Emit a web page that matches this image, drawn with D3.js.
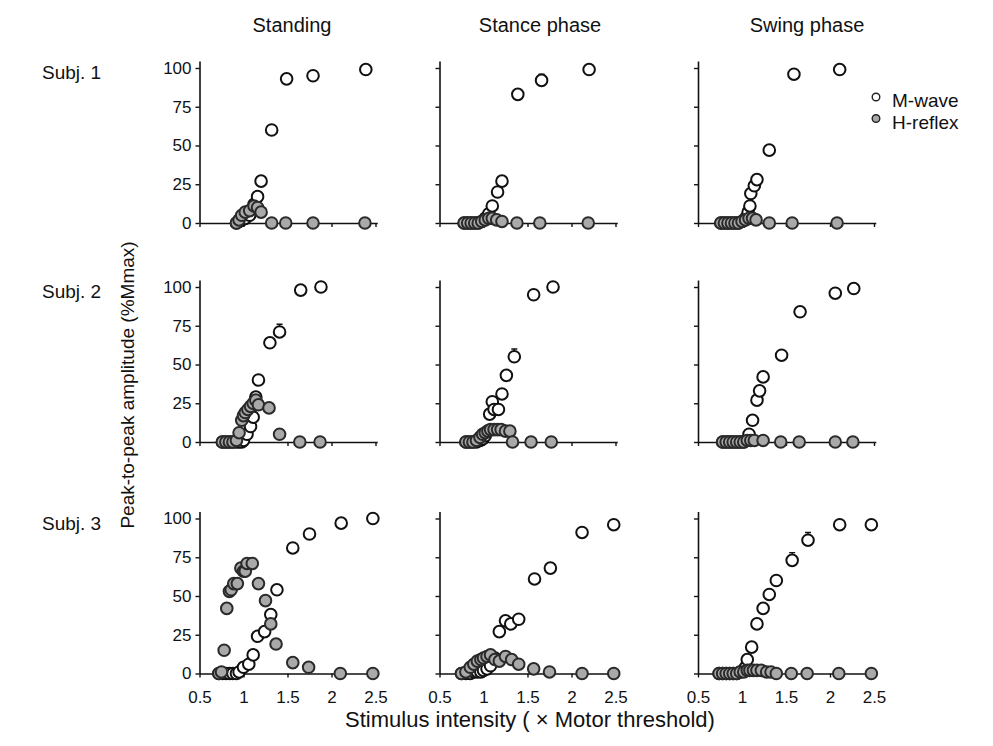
<!DOCTYPE html>
<html>
<head>
<meta charset="utf-8">
<script src="https://cdnjs.cloudflare.com/ajax/libs/d3/7.8.5/d3.min.js"></script>
<style>
  body { margin: 0; background: #fff; }
  svg text { font-family: "Liberation Sans", Arial, sans-serif; fill: #111; }
</style>
</head>
<body>
<div class="chart"></div>
<script>
const conditions = ["Standing", "Stance phase", "Swing phase"];
const subjects = ["Subj. 1", "Subj. 2", "Subj. 3"];
const seriesNames = ["M-wave", "H-reflex"];
const xTicks = [0.5, 1, 1.5, 2, 2.5];
const yTicks = [0, 25, 50, 75, 100];

// [stimulus intensity, amplitude %Mmax]
const s1StandingM = [[0.92,0],[0.95,1],[0.98,2],[1.02,3],[1.07,5],[1.12,12],[1.16,17],[1.2,27],[1.32,60],[1.49,93],[1.79,95],[2.39,99]];
const s1StandingH = [[0.92,0],[0.95,2],[0.98,5],[1.02,7],[1.07,8],[1.12,11],[1.16,10],[1.2,7],[1.32,0],[1.48,0],[1.79,0],[2.38,0]];
const s1StanceM = [[0.78,0],[0.82,0],[0.86,0],[0.9,0],[0.94,0],[0.98,1],[1.02,3],[1.06,6],[1.1,11],[1.16,20],[1.21,27],[1.39,83],[1.66,92],[2.2,99]];
const s1StanceH = [[0.78,0],[0.82,0],[0.86,0],[0.9,0],[0.94,0],[0.98,1],[1.02,2],[1.06,3],[1.1,3],[1.15,2],[1.21,1],[1.38,0],[1.64,0],[2.19,0]];
const s1SwingM = [[0.76,0],[0.8,0],[0.84,0],[0.88,0],[0.92,0],[0.96,0],[1.0,1],[1.04,3],[1.07,7],[1.09,11],[1.1,19],[1.14,24],[1.17,28],[1.31,47],[1.59,96],[2.11,99]];
const s1SwingH = [[0.76,0],[0.8,0],[0.84,0],[0.88,0],[0.92,0],[0.96,0],[1.0,1],[1.04,2],[1.08,3],[1.12,3],[1.16,2],[1.31,0],[1.57,0],[2.08,0]];

const s2StandingM = [[0.76,0],[0.8,0],[0.84,0],[0.88,0],[0.92,0],[0.95,0],[0.98,0],[1.0,1],[1.04,5],[1.08,10],[1.11,16],[1.14,29],[1.17,40],[1.3,64],[1.41,71],[1.65,98],[1.88,100]];
const s2StandingH = [[0.76,0],[0.8,0],[0.84,0],[0.88,0],[0.92,1],[0.95,6],[0.98,14],[1.0,17],[1.02,19],[1.05,21],[1.08,23],[1.11,25],[1.14,27],[1.17,24],[1.29,22],[1.41,5],[1.64,0],[1.87,0]];
const s2StanceM = [[0.8,0],[0.84,0],[0.88,0],[0.92,0],[0.96,1],[0.99,2],[1.02,4],[1.05,7],[1.07,18],[1.1,26],[1.12,21],[1.17,21],[1.21,31],[1.26,43],[1.35,55],[1.57,95],[1.79,100]];
const s2StanceH = [[0.8,0],[0.84,0],[0.88,0],[0.92,1],[0.96,3],[0.99,5],[1.02,6],[1.05,7],[1.08,8],[1.12,8],[1.16,8],[1.2,8],[1.25,7],[1.3,7],[1.33,0],[1.54,0],[1.77,0]];
const s2SwingM = [[0.78,0],[0.82,0],[0.86,0],[0.9,0],[0.94,0],[0.98,0],[1.02,0],[1.05,1],[1.08,5],[1.12,14],[1.17,27],[1.2,33],[1.24,42],[1.45,56],[1.66,84],[2.06,96],[2.27,99]];
const s2SwingH = [[0.78,0],[0.82,0],[0.86,0],[0.9,0],[0.94,0],[0.98,0],[1.02,0],[1.06,1],[1.1,1],[1.14,1],[1.24,1],[1.44,0],[1.65,0],[2.06,0],[2.26,0]];

const s3StandingM = [[0.72,0],[0.76,0],[0.8,0],[0.84,0],[0.88,0],[0.92,0],[0.95,1],[1.0,4],[1.06,6],[1.11,12],[1.16,24],[1.24,27],[1.31,38],[1.38,54],[1.56,81],[1.75,90],[2.11,97],[2.47,100]];
const s3StandingH = [[0.72,0],[0.75,1],[0.78,15],[0.81,42],[0.84,53],[0.86,54],[0.89,58],[0.93,58],[0.97,68],[1.0,66],[1.02,66],[1.04,71],[1.1,71],[1.17,58],[1.25,47],[1.31,32],[1.37,19],[1.56,7],[1.74,4],[2.1,0],[2.47,0]];
const s3StanceM = [[0.75,0],[0.8,0],[0.85,0],[0.89,1],[0.93,1],[0.97,1],[1.0,2],[1.04,3],[1.08,5],[1.13,10],[1.18,27],[1.25,34],[1.31,32],[1.4,35],[1.58,61],[1.76,68],[2.12,91],[2.48,96]];
const s3StanceH = [[0.75,0],[0.8,1],[0.85,4],[0.89,6],[0.93,8],[0.97,9],[1.0,10],[1.04,11],[1.08,12],[1.13,9],[1.18,8],[1.25,11],[1.32,9],[1.4,6],[1.57,3],[1.75,1],[2.12,0],[2.48,0]];
const s3SwingM = [[0.74,0],[0.78,0],[0.82,0],[0.86,0],[0.9,0],[0.94,0],[0.98,1],[1.02,2],[1.04,4],[1.06,9],[1.11,17],[1.17,32],[1.24,42],[1.31,51],[1.39,60],[1.57,73],[1.75,86],[2.11,96],[2.47,96]];
const s3SwingH = [[0.74,0],[0.78,0],[0.82,0],[0.86,0],[0.9,0],[0.94,0],[0.98,1],[1.02,1],[1.06,2],[1.09,2],[1.13,2],[1.17,2],[1.22,2],[1.28,1],[1.33,1],[1.39,0],[1.56,0],[1.74,0],[2.1,0],[2.47,0]];

// [subject, condition, intensity, amplitude, sd] (M-wave)
const errorBars = [[0,1,1.66,92,4],[1,0,1.41,71,5],[1,1,1.35,55,5],[2,2,1.57,73,5],[2,2,1.75,86,5]];

const panels = [
	[{m: s1StandingM, h: s1StandingH}, {m: s1StanceM, h: s1StanceH}, {m: s1SwingM, h: s1SwingH}],
	[{m: s2StandingM, h: s2StandingH}, {m: s2StanceM, h: s2StanceH}, {m: s2SwingM, h: s2SwingH}],
	[{m: s3StandingM, h: s3StandingH}, {m: s3StanceM, h: s3StanceH}, {m: s3SwingM, h: s3SwingH}]
];

// mise en page
const W = 993, H = 746;
const colX = [199.5, 439.5, 698];
const rowY = [223, 442, 673.5];
const titleX = [292, 540, 807];
const panelW = 176;       // 0.5 -> 2.5
const panelH = 155;       // 0 -> 100
const rM = 5.8, rH = 5.8;

const svg = d3.select(".chart")
	.append("svg")
	.attr("width", W)
	.attr("height", H);

function styleAxis(g, labels)
{
	g.select(".domain").attr("stroke", "#111").attr("stroke-width", 1.6);
	g.selectAll(".tick line").attr("stroke", "#111").attr("stroke-width", 1.4);
	g.selectAll(".tick text")
		.attr("font-family", "Liberation Sans, Arial, sans-serif")
		.attr("font-size", 17)
		.attr("fill", "#111")
		.style("display", labels ? null : "none");
}

panels.forEach(function(row, i) {
	row.forEach(function(p, j) {
		var x = d3.scaleLinear()
			.domain([0.5, 2.5])
			.range([colX[j], colX[j] + panelW]);
		var y = d3.scaleLinear()
			.domain([0, 100])
			.range([rowY[i], rowY[i] - panelH]);

		var x2 = x.copy().domain([0.5, 2.52]).range([x(0.5), x(2.52)]);
		var y2 = y.copy().domain([0, 104.5]).range([y(0), y(104.5)]);

		var g = svg.append("g").attr("class", "panel");

		// axe X
		var gx = g.append("g")
			.attr("transform", "translate(0," + rowY[i] + ")")
			.call(d3.axisBottom(x2).tickValues(xTicks).tickSizeInner(4).tickSizeOuter(0).tickPadding(13).tickFormat(d3.format("")));
		styleAxis(gx, i == 2);

		// axe Y
		var gy = g.append("g")
			.attr("transform", "translate(" + colX[j] + ",0)")
			.call(d3.axisLeft(y2).tickValues(yTicks).tickSizeInner(4).tickSizeOuter(0).tickPadding(4));
		styleAxis(gy, j == 0);

		// barres d'erreur
		var eb = errorBars.filter(function(d) { return d[0] == i && d[1] == j; });
		g.selectAll(".err")
			.data(eb)
			.enter()
			.append("path")
			.attr("class", "err")
			.attr("fill", "none")
			.attr("stroke", "#111")
			.attr("stroke-width", 1.4)
			.attr("d", function(d) {
				var cx = x(d[2]), top = y(d[3] + d[4]);
				return "M" + cx + "," + y(d[3]) + "V" + top + "M" + (cx - 3) + "," + top + "H" + (cx + 3);
			});

		// M-wave
		g.selectAll(".mwave")
			.data(p.m)
			.enter()
			.append("circle")
			.attr("class", "mwave")
			.attr("cx", function(d) { return x(d[0]); })
			.attr("cy", function(d) { return y(d[1]); })
			.attr("r", rM)
			.attr("fill", "#fff")
			.attr("stroke", "#111")
			.attr("stroke-width", 2);

		// H-reflex
		g.selectAll(".hreflex")
			.data(p.h)
			.enter()
			.append("circle")
			.attr("class", "hreflex")
			.attr("cx", function(d) { return x(d[0]); })
			.attr("cy", function(d) { return y(d[1]); })
			.attr("r", rH)
			.attr("fill", "#a9a9a9")
			.attr("stroke", "#2a2a2a")
			.attr("stroke-width", 2);
	});
});

// titres colonnes
svg.selectAll(".coltitle")
	.data(conditions)
	.enter()
	.append("text")
	.attr("class", "coltitle")
	.attr("x", function(_, j) { return titleX[j]; })
	.attr("y", 32)
	.attr("text-anchor", "middle")
	.attr("font-size", 20)
	.text(function(d) { return d; });

// sujets
svg.selectAll(".rowlabel")
	.data(subjects)
	.enter()
	.append("text")
	.attr("class", "rowlabel")
	.attr("x", 42)
	.attr("y", function(_, i) { return rowY[i] - 144; })
	.attr("font-size", 19)
	.text(function(d) { return d; });

// légende
var legend = svg.selectAll(".legend")
	.data(seriesNames)
	.enter()
	.append("g")
	.attr("class", "legend")
	.attr("transform", function(_, k) { return "translate(" + (colX[2] + 178) + "," + (97 + k * 21.5) + ")"; });

legend.append("circle")
	.attr("r", 3.8)
	.attr("fill", function(_, k) { return k == 0 ? "#fff" : "#a9a9a9"; })
	.attr("stroke", "#222")
	.attr("stroke-width", 1.4);

legend.append("text")
	.attr("x", 16)
	.attr("y", 10)
	.attr("font-size", 19)
	.text(function(d) { return d; });

// titres axes
svg.append("text")
	.attr("transform", "translate(134,385) rotate(-90)")
	.attr("text-anchor", "middle")
	.attr("font-size", 19)
	.text("Peak-to-peak amplitude (%Mmax)");

svg.append("text")
	.attr("x", 530)
	.attr("y", 727)
	.attr("text-anchor", "middle")
	.attr("font-size", 22)
	.text("Stimulus intensity ( \u00d7 Motor threshold)");
</script>
</body>
</html>
